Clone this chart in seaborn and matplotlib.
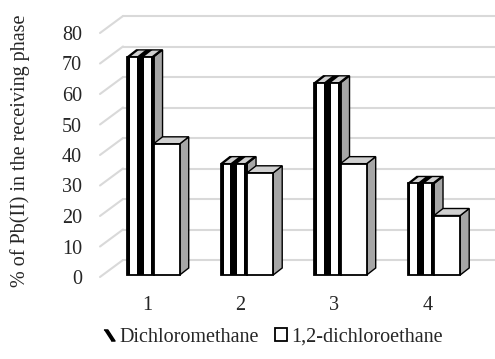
import numpy as np
import pandas as pd
import matplotlib
matplotlib.use('Agg')
import matplotlib.pyplot as plt
import seaborn as sns
from matplotlib.patches import Polygon, Rectangle, Patch
from matplotlib.lines import Line2D

conditions = ['1', '2', '3', '4']
dichloromethane = [71.5, 36.5, 63, 30]
dichloroethane = [43, 33.5, 36.5, 19.5]
series_names = ['Dichloromethane', '1,2-dichloroethane']
y_ticks = [0, 10, 20, 30, 40, 50, 60, 70, 80]

sns.set_style('white')
plt.rcParams['font.family'] = ['Liberation Serif', 'DejaVu Serif']

df = pd.DataFrame({
    'cond': conditions * 2,
    'value': dichloromethane + dichloroethane,
    'solvent': [series_names[0]] * 4 + [series_names[1]] * 4,
})

W, H = 495, 359
fig = plt.figure(figsize=(W / 100, H / 100), dpi=100)
# axes placed in pixel terms: value 0 at y=277px, 3.05 px per unit
ax = fig.add_axes([100 / W, (H - 277) / H, 395 / W, 88 * 3.05 / H])

sns.barplot(data=df, x='cond', y='value', hue='solvent', order=conditions,
            hue_order=series_names, palette=['white', 'white'], width=0.56,
            edgecolor='black', linewidth=1.3, legend=False, ax=ax, saturation=1)

ax.set_xlim(-0.503, 3.722)
ax.set_ylim(0, 88)

# 3D-ish depth offsets (data units)
floor_dx, floor_dy = 0.246, 5.57
bar_dx, bar_dy = 0.096, 2.3
shift_x, lift = 0.07, 0.66

grid_c = '#d9d9d9'
for v in y_ticks:
    ax.plot([-0.503, -0.503 + floor_dx], [v, v + floor_dy], color=grid_c, lw=1.5, zorder=0, clip_on=False)
    ax.plot([-0.503 + floor_dx, 3.722], [v + floor_dy, v + floor_dy], color=grid_c, lw=1.5, zorder=0, clip_on=False)

bars = list(ax.patches)
n = len(conditions)
for i, p in enumerate(bars):
    series = i // n
    base_z = 2 + series * 3
    x0 = p.get_x() + shift_x
    p.set_x(x0)
    p.set_y(lift)
    w = p.get_width()
    y0 = lift
    y1 = lift + p.get_height()
    p.set_zorder(base_z + 1)
    side = Polygon([(x0 + w, y0), (x0 + w + bar_dx, y0 + bar_dy), (x0 + w + bar_dx, y1 + bar_dy), (x0 + w, y1)],
                   closed=True, facecolor='#a6a6a6', edgecolor='black', lw=1.0, zorder=base_z)
    top = Polygon([(x0, y1), (x0 + bar_dx, y1 + bar_dy), (x0 + w + bar_dx, y1 + bar_dy), (x0 + w, y1)],
                  closed=True, facecolor='#d0d0d0', edgecolor='black', lw=1.0, zorder=base_z)
    ax.add_patch(side)
    ax.add_patch(top)
    if series == 0:
        for a, b in [(0.0, 0.1), (0.35, 0.62), (0.9, 1.0)]:
            ax.add_patch(Rectangle((x0 + a * w, y0), (b - a) * w, y1 - y0, facecolor='black',
                                   edgecolor='none', zorder=base_z + 1.5))
            ax.add_patch(Polygon([(x0 + a * w, y1), (x0 + a * w + bar_dx, y1 + bar_dy),
                                  (x0 + b * w + bar_dx, y1 + bar_dy), (x0 + b * w, y1)],
                                 closed=True, facecolor='black', edgecolor='none', zorder=base_z + 0.5))

ax.set_yticks(y_ticks)
ax.set_xlabel('')
ax.set_ylabel('')
ax.tick_params(axis='y', length=0, pad=13, labelsize=14.5)
ax.tick_params(axis='x', length=0, pad=14, labelsize=14.5)
for s in ax.spines.values():
    s.set_visible(False)

fig.text(20 / W, 1 - 151 / H, '% of Pb(II) in the receiving phase', rotation=90,
         ha='center', va='center', fontsize=14.5)

stripe_marker = [(-1, 1), (-0.3, 1), (1, -1), (0.3, -1)]
handles = [Line2D([], [], marker=stripe_marker, color='black', linestyle='none', markersize=8),
           Patch(facecolor='white', edgecolor='black', lw=1.3)]
fig.legend(handles, series_names, loc='center', bbox_to_anchor=(273 / W, 1 - 337 / H),
           ncol=2, frameon=False, fontsize=14.5, handlelength=0.6, handleheight=0.6,
           handletextpad=0.2, columnspacing=0.8)

fig.savefig('out.png', dpi=100)
